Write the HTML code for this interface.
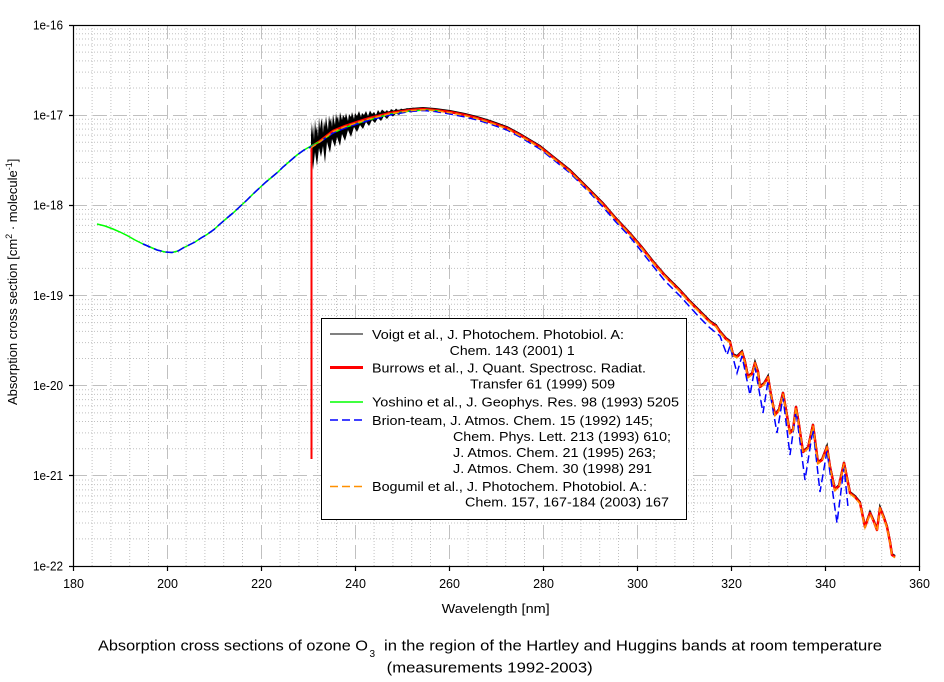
<!DOCTYPE html>
<html><head><meta charset="utf-8"><style>
html,body{margin:0;padding:0;background:#fff;}
svg{display:block;}
text{font-family:"Liberation Sans",Arial,sans-serif;fill:#000;}
</style></head><body>
<svg width="944" height="682" viewBox="0 0 944 682" xmlns="http://www.w3.org/2000/svg">
<rect width="944" height="682" fill="#fff"/>
<!-- minor grid (dotted) -->
<g stroke="#c0c0c0" stroke-width="1" stroke-dasharray="1 2" fill="none">
<path d="M73 88.03H919M73 72.15H919M73 60.88H919M73 52.14H919M73 45.01H919M73 38.97H919M73 33.74H919M73 29.12H919
M73 178.2H919M73 162.32H919M73 151.05H919M73 142.31H919M73 135.18H919M73 129.14H919M73 123.91H919M73 119.29H919
M73 268.37H919M73 252.49H919M73 241.22H919M73 232.48H919M73 225.35H919M73 219.31H919M73 214.08H919M73 209.46H919
M73 358.54H919M73 342.66H919M73 331.39H919M73 322.65H919M73 315.52H919M73 309.48H919M73 304.25H919M73 299.63H919
M73 448.71H919M73 432.83H919M73 421.56H919M73 412.82H919M73 405.69H919M73 399.65H919M73 394.42H919M73 389.8H919
M73 538.88H919M73 523H919M73 511.73H919M73 502.99H919M73 495.86H919M73 489.82H919M73 484.59H919M73 479.97H919"/>
<path d="M92.1 25V566M110.9 25V566M129.7 25V566M148.5 25V566M186.1 25V566M204.9 25V566M223.7 25V566M242.5 25V566
M280.1 25V566M298.9 25V566M317.7 25V566M336.5 25V566M374.1 25V566M392.9 25V566M411.7 25V566M430.5 25V566
M468.1 25V566M486.9 25V566M505.7 25V566M524.5 25V566M562.1 25V566M580.9 25V566M599.7 25V566M618.5 25V566
M656.1 25V566M674.9 25V566M693.7 25V566M712.5 25V566M750.1 25V566M768.9 25V566M787.7 25V566M806.5 25V566
M844.1 25V566M862.9 25V566M881.7 25V566M900.5 25V566"/>
</g>
<!-- major grid (dashed) -->
<g stroke="#c0c0c0" stroke-width="1" stroke-dasharray="14 6" fill="none">
<path d="M73 115.5H919M73 205.5H919M73 295.5H919M73 385.5H919M73 475.5H919"/>
<path d="M167.5 25V566M261.5 25V566M355.5 25V566M449.5 25V566M543.5 25V566M637.5 25V566M731.5 25V566M825.5 25V566"/>
</g>

<!-- black noisy Voigt data -->
<polygon fill="#000" points="311,121 312,135 313,124 314,140 315,119 316,131 317,126 318,137 319,117 320,129 321,122 322,118 323,133 324,121 325,127 326,116 327,124 328,130 329,115 330,122 331,118 332,127 333,114 334,120 335,125 336,113 337,119 338,116 339,123 340,112 342,120 343,115 345,118 346,113 348,121 349,114 351,117 352,112 354,119 355,113 357,116 359,111 361,117 362,113 364,115 366,111 368,116 370,110.5 372,114 374,112 376,115 378,110 380,113 382,109.5 385,112 387,110 389,113 391,109 394,111 396,108.5 399,111 401,108.5 404,110 407,108 410,110 413,107.5 416,109.5 420,108 420,110 417,111 414,110 411,112.5 408,111.5 405,113 402,112 399,115 396,113.5 393,116.5 390,115 387,119 384,116 381,121 378,118 375,123 372,120 369,126 366,122 363,129 360,125 357,132 354,127 351,137 348,130 345,141 342,134 340,146 337,137 335,147 332,139 330,153 327,142 325,163 323,146 321,157 319,148 317,166 315,152 313,170 312,155 311,168"/>
<polyline fill="none" stroke="#000" stroke-width="2" transform="translate(0,-1)" points="311,147 320,141 333,131 345,126 357,122 370,118 390,113 410,110 423,109 435,110 450,112 465,115 477,118 490,122 507,128 520,135 530,141 540,147 550,155 560,163 570,171 580,181 590,191 603,204 615,218 630,234 642,248 653,262 665,276 680,291 690,302 700,312 710,322 716,326 720,332 726,339 730,342 733,355 737,357 742,352 745,362 748,377 752,374 755,363 758,372 760,387 764,384 768,377 771,395 775,415 779,410 783,393 786,410 790,433 793,430 796,407 799,425 803,452 808,448 813,425 815,440 818,463 822,460 827,447 830,467 835,490 839,486 844,463 847,478 850,493 855,497 860,503 865,527 870,513 874,522 877,530 880,508 884,518 887,527 890,542 892,555 895,557"/>

<!-- red Burrows -->
<path d="M311.5 146V459" stroke="#ff0000" stroke-width="2" fill="none"/>
<polyline fill="none" stroke="#ff0000" stroke-width="2.5" stroke-linejoin="round" points="311,147 320,141 333,131 345,126 357,122 370,118 390,113 410,110 423,109 435,110 450,112 465,115 477,118 490,122 507,128 520,135 530,141 540,147 550,155 560,163 570,171 580,181 590,191 603,204 615,218 630,234 642,248 653,262 665,276 680,291 690,302 700,312 710,322 716,326 720,332 726,339 730,342 733,355 737,357 742,352 745,362 748,377 752,374 755,363 758,372 760,387 764,384 768,377 771,395 775,415 779,410 783,393 786,410 790,433 793,430 796,407 799,425 803,452 808,448 813,425 815,440 818,463 822,460 827,447 830,467 835,490 839,486 844,463 847,478 850,493 855,497 860,503 865,527 870,513 874,522 877,530 880,508 884,518 887,527 890,542 892,555 895,557"/>

<!-- green Yoshino -->
<polyline fill="none" stroke="#00ff00" stroke-width="1.5" points="97,224 105,226 113,229 120,232 128,236 135,240 143,244 150,247 157,250 165,252 172,252.5 178,251 183,248 190,244.5 195,242 201,238 207,234.5 214,229.5 220,224 227,218 233,213 240,206.5 247,200 253,194 260,187.5 266,182 272,177 278,172 283,167 290,161 297,155 304,150 311,146 320,141.5 333,133 345,127.5 357,123.5 370,119.5 390,114 410,111 425,110 440,111"/>

<!-- blue Brion dashed -->
<polyline fill="none" stroke="#0000ff" stroke-width="1.5" stroke-dasharray="8 4" points="143,244 150,247 157,250 165,252 172,252.5 178,251 183,248 190,244.5 195,242 201,238 207,234.5 214,229.5 220,224 227,218 233,213 240,206.5 247,200 253,194 260,187.5 266,182 272,177 278,172 283,167 290,161 297,155 304,150 311,147 320,142 333,133 345,128 357,124 370,120 390,115 410,111.5 423,110.5 435,111.5 450,114 465,117 477,120 490,124 507,130 520,137 530,143 540,149 550,157 560,165 570,173 580,183 590,193 603,207 615,221 630,237 642,252 653,266 665,281 680,296 690,307 700,318 710,328 720,336 727,355 730,346 737,373 742,356 750,395 755,367 763,413 768,381 777,433 783,397 790,455 796,411 805,480 813,429 820,492 827,451 837,523 844,467 848,507"/>

<!-- orange Bogumil dashed -->
<polyline fill="none" stroke="#ff9000" stroke-width="1.5" stroke-dasharray="6 3" transform="translate(0,0.7)" points="311,147 320,141 333,131 345,126 357,122 370,118 390,113 410,110 423,109 435,110 450,112 465,115 477,118 490,122 507,128 520,135 530,141 540,147 550,155 560,163 570,171 580,181 590,191 603,204 615,218 630,234 642,248 653,262 665,276 680,291 690,302 700,312 710,322 716,326 720,332 726,339 730,342 733,355 737,357 742,352 745,362 748,377 752,374 755,363 758,372 760,387 764,384 768,377 771,395 775,415 779,410 783,393 786,410 790,433 793,430 796,407 799,425 803,452 808,448 813,425 815,440 818,463 822,460 827,447 830,467 835,490 839,486 844,463 847,478 850,493 855,497 860,503 865,527 870,513 874,522 877,530 880,508 884,518 887,527 890,542 892,555 895,557"/>

<!-- axes frame -->
<rect x="73.5" y="25.5" width="846" height="541" fill="none" stroke="#000" stroke-width="1.2"/>
<g stroke="#000" stroke-width="1.2">
<path d="M69 25.5H73M69 115.5H73M69 205.5H73M69 295.5H73M69 385.5H73M69 475.5H73M69 566.5H73"/>
<path d="M73.5 566V571M167.5 566V571M261.5 566V571M355.5 566V571M449.5 566V571M543.5 566V571M637.5 566V571M731.5 566V571M825.5 566V571M919.5 566V571"/>
</g>

<!-- y tick labels -->
<g font-size="12.5">
<text x="33" y="29.5" textLength="30" lengthAdjust="spacingAndGlyphs">1e-16</text>
<text x="33" y="119.5" textLength="30" lengthAdjust="spacingAndGlyphs">1e-17</text>
<text x="33" y="209.5" textLength="30" lengthAdjust="spacingAndGlyphs">1e-18</text>
<text x="33" y="300" textLength="30" lengthAdjust="spacingAndGlyphs">1e-19</text>
<text x="33" y="390" textLength="30" lengthAdjust="spacingAndGlyphs">1e-20</text>
<text x="33" y="480" textLength="30" lengthAdjust="spacingAndGlyphs">1e-21</text>
<text x="33" y="570.5" textLength="30" lengthAdjust="spacingAndGlyphs">1e-22</text>
</g>
<!-- x tick labels -->
<g font-size="12.5" text-anchor="middle">
<text x="73.5" y="588">180</text>
<text x="167.5" y="588">200</text>
<text x="261.5" y="588">220</text>
<text x="355.5" y="588">240</text>
<text x="449.5" y="588">260</text>
<text x="543.5" y="588">280</text>
<text x="637.5" y="588">300</text>
<text x="731.5" y="588">320</text>
<text x="825.5" y="588">340</text>
<text x="919.5" y="588">360</text>
</g>

<!-- axis titles -->
<text x="441.7" y="613" font-size="13" textLength="108" lengthAdjust="spacingAndGlyphs">Wavelength [nm]</text>
<text transform="translate(17,405) rotate(-90)" font-size="13" x="0" y="0">Absorption cross section [cm<tspan font-size="9" dy="-5">2</tspan><tspan dy="5"> · molecule</tspan><tspan font-size="9" dy="-5">-1</tspan><tspan dy="5">]</tspan></text>

<!-- legend -->
<rect x="321.5" y="318.5" width="365" height="201" fill="#fff" stroke="#000" stroke-width="1"/>
<g fill="none">
<path d="M330 334H363" stroke="#000" stroke-width="1"/>
<path d="M330 367.5H363" stroke="#ff0000" stroke-width="3"/>
<path d="M330 402H363" stroke="#00ff00" stroke-width="1.5"/>
<path d="M330 420H363" stroke="#0000ff" stroke-width="1.5" stroke-dasharray="8 4"/>
<path d="M330 486.5H363" stroke="#ff9000" stroke-width="1.5" stroke-dasharray="8 4"/>
</g>
<g font-size="12.5">
<text x="372" y="339" textLength="252" lengthAdjust="spacingAndGlyphs">Voigt et al., J. Photochem. Photobiol. A:</text>
<text x="449.7" y="355" textLength="125" lengthAdjust="spacingAndGlyphs">Chem. 143 (2001) 1</text>
<text x="372" y="372.5" textLength="274" lengthAdjust="spacingAndGlyphs">Burrows et al., J. Quant. Spectrosc. Radiat.</text>
<text x="470" y="388.5" textLength="145" lengthAdjust="spacingAndGlyphs">Transfer 61 (1999) 509</text>
<text x="372" y="406.7" textLength="307" lengthAdjust="spacingAndGlyphs">Yoshino et al., J. Geophys. Res. 98 (1993) 5205</text>
<text x="372" y="425" textLength="281" lengthAdjust="spacingAndGlyphs">Brion-team, J. Atmos. Chem. 15 (1992) 145;</text>
<text x="453" y="441" textLength="218" lengthAdjust="spacingAndGlyphs">Chem. Phys. Lett. 213 (1993) 610;</text>
<text x="453" y="457" textLength="203" lengthAdjust="spacingAndGlyphs">J. Atmos. Chem. 21 (1995) 263;</text>
<text x="453" y="473" textLength="199" lengthAdjust="spacingAndGlyphs">J. Atmos. Chem. 30 (1998) 291</text>
<text x="372" y="491" textLength="275" lengthAdjust="spacingAndGlyphs">Bogumil et al., J. Photochem. Photobiol. A.:</text>
<text x="465" y="506.5" textLength="204" lengthAdjust="spacingAndGlyphs">Chem. 157, 167-184 (2003) 167</text>
</g>

<!-- caption -->
<g font-size="14.5">
<text x="98" y="650.5" textLength="270" lengthAdjust="spacingAndGlyphs">Absorption cross sections of ozone O</text>
<text x="369.5" y="657" font-size="10">3</text>
<text x="384" y="650.5" textLength="498" lengthAdjust="spacingAndGlyphs">in the region of the Hartley and Huggins bands at room temperature</text>
<text x="386.7" y="672.5" textLength="206" lengthAdjust="spacingAndGlyphs">(measurements 1992-2003)</text>
</g>
</svg>
</body></html>
